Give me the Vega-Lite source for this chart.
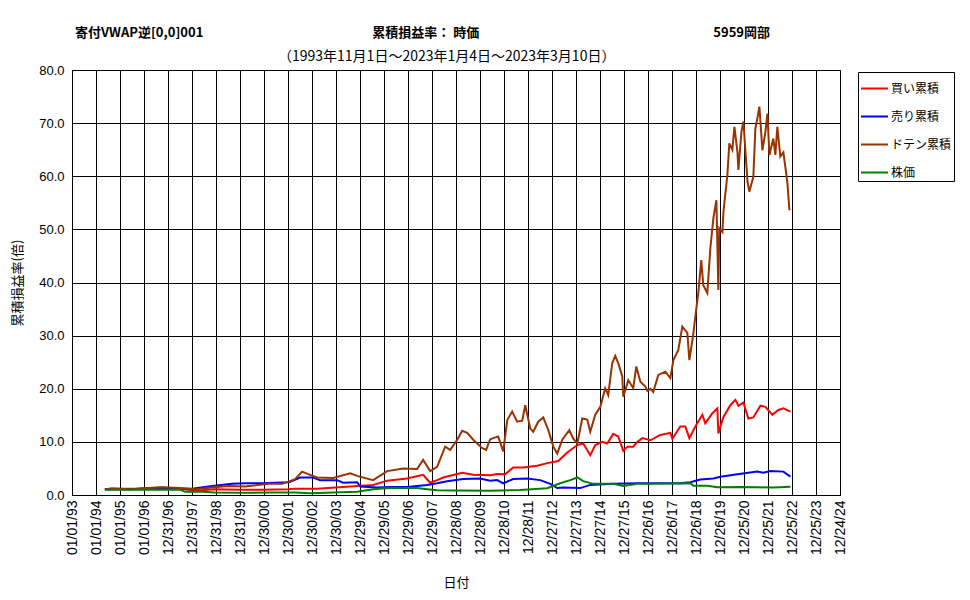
{
  "$schema": "https://vega.github.io/schema/vega-lite/v6.json",
  "width": 768,
  "height": 425,
  "autosize": {"type": "none"},
  "padding": {"left": 72, "top": 70, "right": 130, "bottom": 105},
  "background": "white",
  "title": {
    "text": "寄付VWAP逆[0,0]001　　　　　　　　　　　　　累積損益率： 時価　　　　　　　　　　　　　　　　　　5959岡部",
    "subtitle": "\u200b　　　　　　　　　　　　　　\u2002（1993年11月1日～2023年1月4日～2023年3月10日）",
    "anchor": "start",
    "frame": "group",
    "dx": 3,
    "font": "Noto Sans CJK JP",
    "fontSize": 13,
    "fontWeight": "bold",
    "color": "black",
    "subtitleFont": "Noto Sans CJK JP",
    "subtitleFontSize": 14,
    "subtitleColor": "black",
    "subtitlePadding": 10,
    "offset": 0
  },
  "config": {
    "view": {"stroke": "#808080", "strokeWidth": 1},
    "axis": {
      "labelFont": "Liberation Sans",
      "labelColor": "black",
      "titleFont": "Noto Sans CJK JP",
      "titleFontWeight": "normal",
      "titleColor": "black",
      "titleFontSize": 13,
      "domainColor": "black",
      "gridColor": "black",
      "gridOpacity": 1,
      "gridWidth": 1,
      "ticks": false
    }
  },
  "data": {
    "values": [
      {"date": "1994-05-16", "series": "買い累積", "value": 1.1},
      {"date": "1995-06-01", "series": "買い累積", "value": 1.1},
      {"date": "1996-10-01", "series": "買い累積", "value": 1.4},
      {"date": "1997-07-01", "series": "買い累積", "value": 1.2},
      {"date": "1998-02-16", "series": "買い累積", "value": 0.8},
      {"date": "1998-12-16", "series": "買い累積", "value": 1.1},
      {"date": "1999-12-01", "series": "買い累積", "value": 1.0},
      {"date": "2000-12-01", "series": "買い累積", "value": 1.0},
      {"date": "2002-01-01", "series": "買い累積", "value": 1.1},
      {"date": "2002-04-16", "series": "買い累積", "value": 1.2},
      {"date": "2003-03-16", "series": "買い累積", "value": 1.2},
      {"date": "2004-08-01", "series": "買い累積", "value": 1.6},
      {"date": "2005-07-16", "series": "買い累積", "value": 1.9},
      {"date": "2006-02-16", "series": "買い累積", "value": 2.7},
      {"date": "2006-12-16", "series": "買い累積", "value": 3.1},
      {"date": "2007-08-16", "series": "買い累積", "value": 3.8},
      {"date": "2007-12-01", "series": "買い累積", "value": 2.3},
      {"date": "2008-03-16", "series": "買い累積", "value": 2.8},
      {"date": "2008-06-16", "series": "買い累積", "value": 3.3},
      {"date": "2009-04-01", "series": "買い累積", "value": 4.2},
      {"date": "2009-09-16", "series": "買い累積", "value": 3.8},
      {"date": "2010-06-01", "series": "買い累積", "value": 3.7},
      {"date": "2010-09-16", "series": "買い累積", "value": 3.95},
      {"date": "2011-01-16", "series": "買い累積", "value": 3.9},
      {"date": "2011-05-16", "series": "買い累積", "value": 5.2},
      {"date": "2011-10-16", "series": "買い累積", "value": 5.2},
      {"date": "2012-05-16", "series": "買い累積", "value": 5.5},
      {"date": "2012-10-16", "series": "買い累積", "value": 6.0},
      {"date": "2013-04-01", "series": "買い累積", "value": 6.4},
      {"date": "2013-08-16", "series": "買い累積", "value": 8.0},
      {"date": "2014-01-16", "series": "買い累積", "value": 9.4},
      {"date": "2014-04-16", "series": "買い累積", "value": 9.7},
      {"date": "2014-08-01", "series": "買い累積", "value": 7.5},
      {"date": "2014-10-16", "series": "買い累積", "value": 9.4},
      {"date": "2015-02-01", "series": "買い累積", "value": 10.0},
      {"date": "2015-04-16", "series": "買い累積", "value": 9.7},
      {"date": "2015-07-16", "series": "買い累積", "value": 11.5},
      {"date": "2015-10-01", "series": "買い累積", "value": 11.0},
      {"date": "2015-12-16", "series": "買い累積", "value": 8.3},
      {"date": "2016-02-16", "series": "買い累積", "value": 9.1},
      {"date": "2016-05-16", "series": "買い累積", "value": 9.1},
      {"date": "2016-07-16", "series": "買い累積", "value": 10.0},
      {"date": "2016-10-01", "series": "買い累積", "value": 10.7},
      {"date": "2017-02-01", "series": "買い累積", "value": 10.3},
      {"date": "2017-07-01", "series": "買い累積", "value": 11.3},
      {"date": "2017-12-01", "series": "買い累積", "value": 11.7},
      {"date": "2018-01-01", "series": "買い累積", "value": 10.6},
      {"date": "2018-05-01", "series": "買い累積", "value": 12.9},
      {"date": "2018-07-16", "series": "買い累積", "value": 12.9},
      {"date": "2018-09-16", "series": "買い累積", "value": 10.7},
      {"date": "2018-12-16", "series": "買い累積", "value": 12.9},
      {"date": "2019-04-01", "series": "買い累積", "value": 15.1},
      {"date": "2019-05-16", "series": "買い累積", "value": 13.5},
      {"date": "2019-09-01", "series": "買い累積", "value": 15.4},
      {"date": "2019-11-16", "series": "買い累積", "value": 16.3},
      {"date": "2019-12-01", "series": "買い累積", "value": 11.6},
      {"date": "2020-02-16", "series": "買い累積", "value": 14.7},
      {"date": "2020-06-01", "series": "買い累積", "value": 16.9},
      {"date": "2020-08-16", "series": "買い累積", "value": 17.9},
      {"date": "2020-10-01", "series": "買い累積", "value": 16.8},
      {"date": "2020-12-16", "series": "買い累積", "value": 17.4},
      {"date": "2021-03-01", "series": "買い累積", "value": 14.4},
      {"date": "2021-05-16", "series": "買い累積", "value": 14.6},
      {"date": "2021-09-01", "series": "買い累積", "value": 16.8},
      {"date": "2021-11-16", "series": "買い累積", "value": 16.6},
      {"date": "2022-03-01", "series": "買い累積", "value": 15.1},
      {"date": "2022-06-01", "series": "買い累積", "value": 16.0},
      {"date": "2022-08-16", "series": "買い累積", "value": 16.3},
      {"date": "2022-12-01", "series": "買い累積", "value": 15.7},

      {"date": "1994-05-16", "series": "売り累積", "value": 1.1},
      {"date": "1994-09-01", "series": "売り累積", "value": 1.2},
      {"date": "1995-06-01", "series": "売り累積", "value": 1.1},
      {"date": "1996-10-01", "series": "売り累積", "value": 1.3},
      {"date": "1997-07-01", "series": "売り累積", "value": 1.2},
      {"date": "1998-01-01", "series": "売り累積", "value": 1.2},
      {"date": "1998-11-01", "series": "売り累積", "value": 1.7},
      {"date": "1999-09-01", "series": "売り累積", "value": 2.1},
      {"date": "2000-03-16", "series": "売り累積", "value": 2.2},
      {"date": "2000-12-01", "series": "売り累積", "value": 2.2},
      {"date": "2002-01-01", "series": "売り累積", "value": 2.4},
      {"date": "2002-02-01", "series": "売り累積", "value": 2.5},
      {"date": "2002-07-01", "series": "売り累積", "value": 3.3},
      {"date": "2003-01-16", "series": "売り累積", "value": 3.3},
      {"date": "2003-05-01", "series": "売り累積", "value": 2.8},
      {"date": "2004-01-16", "series": "売り累積", "value": 2.8},
      {"date": "2004-04-16", "series": "売り累積", "value": 2.3},
      {"date": "2004-11-16", "series": "売り累積", "value": 2.4},
      {"date": "2005-01-01", "series": "売り累積", "value": 1.6},
      {"date": "2005-09-16", "series": "売り累積", "value": 1.4},
      {"date": "2006-04-01", "series": "売り累積", "value": 1.5},
      {"date": "2006-12-16", "series": "売り累積", "value": 1.5},
      {"date": "2007-10-16", "series": "売り累積", "value": 1.9},
      {"date": "2008-03-16", "series": "売り累積", "value": 2.2},
      {"date": "2008-08-16", "series": "売り累積", "value": 2.6},
      {"date": "2009-04-16", "series": "売り累積", "value": 3.0},
      {"date": "2010-01-01", "series": "売り累積", "value": 3.1},
      {"date": "2010-06-01", "series": "売り累積", "value": 2.7},
      {"date": "2010-09-16", "series": "売り累積", "value": 2.8},
      {"date": "2010-12-16", "series": "売り累積", "value": 2.2},
      {"date": "2011-05-16", "series": "売り累積", "value": 3.0},
      {"date": "2011-12-16", "series": "売り累積", "value": 3.1},
      {"date": "2012-07-01", "series": "売り累積", "value": 2.8},
      {"date": "2012-12-01", "series": "売り累積", "value": 2.1},
      {"date": "2013-03-16", "series": "売り累積", "value": 1.3},
      {"date": "2013-06-16", "series": "売り累積", "value": 1.4},
      {"date": "2014-03-01", "series": "売り累積", "value": 1.3},
      {"date": "2014-08-01", "series": "売り累積", "value": 1.9},
      {"date": "2015-07-16", "series": "売り累積", "value": 2.1},
      {"date": "2016-07-16", "series": "売り累積", "value": 2.2},
      {"date": "2017-02-01", "series": "売り累積", "value": 2.2},
      {"date": "2018-05-01", "series": "売り累積", "value": 2.2},
      {"date": "2018-10-01", "series": "売り累積", "value": 2.4},
      {"date": "2019-03-01", "series": "売り累積", "value": 2.9},
      {"date": "2019-09-16", "series": "売り累積", "value": 3.1},
      {"date": "2020-01-01", "series": "売り累積", "value": 3.45},
      {"date": "2020-09-16", "series": "売り累積", "value": 3.9},
      {"date": "2021-07-16", "series": "売り累積", "value": 4.4},
      {"date": "2021-10-16", "series": "売り累積", "value": 4.2},
      {"date": "2022-02-01", "series": "売り累積", "value": 4.5},
      {"date": "2022-08-16", "series": "売り累積", "value": 4.4},
      {"date": "2022-12-01", "series": "売り累積", "value": 3.45},

      {"date": "1994-05-16", "series": "ドテン累積", "value": 1.1},
      {"date": "1994-09-01", "series": "ドテン累積", "value": 1.2},
      {"date": "1995-08-16", "series": "ドテン累積", "value": 1.2},
      {"date": "1996-10-01", "series": "ドテン累積", "value": 1.45},
      {"date": "1997-07-01", "series": "ドテン累積", "value": 1.3},
      {"date": "1998-02-16", "series": "ドテン累積", "value": 1.1},
      {"date": "1998-11-01", "series": "ドテン累積", "value": 1.4},
      {"date": "1999-07-01", "series": "ドテン累積", "value": 1.7},
      {"date": "2000-03-16", "series": "ドテン累積", "value": 1.6},
      {"date": "2000-10-01", "series": "ドテン累積", "value": 1.9},
      {"date": "2001-03-01", "series": "ドテン累積", "value": 2.1},
      {"date": "2001-10-01", "series": "ドテン累積", "value": 2.1},
      {"date": "2002-02-01", "series": "ドテン累積", "value": 2.6},
      {"date": "2002-04-16", "series": "ドテン累積", "value": 3.0},
      {"date": "2002-08-01", "series": "ドテン累積", "value": 4.4},
      {"date": "2002-12-01", "series": "ドテン累積", "value": 3.8},
      {"date": "2003-03-16", "series": "ドテン累積", "value": 3.3},
      {"date": "2003-11-16", "series": "ドテン累積", "value": 3.2},
      {"date": "2004-08-01", "series": "ドテン累積", "value": 4.1},
      {"date": "2004-11-16", "series": "ドテン累積", "value": 3.6},
      {"date": "2005-07-16", "series": "ドテン累積", "value": 2.8},
      {"date": "2006-02-16", "series": "ドテン累積", "value": 4.5},
      {"date": "2006-10-16", "series": "ドテン累積", "value": 5.0},
      {"date": "2007-05-16", "series": "ドテン累積", "value": 4.9},
      {"date": "2007-08-16", "series": "ドテン累積", "value": 6.6},
      {"date": "2007-12-01", "series": "ドテン累積", "value": 4.5},
      {"date": "2008-03-16", "series": "ドテン累積", "value": 5.3},
      {"date": "2008-07-16", "series": "ドテン累積", "value": 9.1},
      {"date": "2008-10-01", "series": "ドテン累積", "value": 8.5},
      {"date": "2009-01-16", "series": "ドテン累積", "value": 10.4},
      {"date": "2009-04-01", "series": "ドテン累積", "value": 12.1},
      {"date": "2009-06-16", "series": "ドテン累積", "value": 11.7},
      {"date": "2009-09-16", "series": "ドテン累積", "value": 10.4},
      {"date": "2010-02-01", "series": "ドテン累積", "value": 8.8},
      {"date": "2010-04-01", "series": "ドテン累積", "value": 8.5},
      {"date": "2010-06-01", "series": "ドテン累積", "value": 10.5},
      {"date": "2010-07-16", "series": "ドテン累積", "value": 10.7},
      {"date": "2010-10-01", "series": "ドテン累積", "value": 11.0},
      {"date": "2010-12-16", "series": "ドテン累積", "value": 8.2},
      {"date": "2011-02-16", "series": "ドテン累積", "value": 14.1},
      {"date": "2011-05-01", "series": "ドテン累積", "value": 15.7},
      {"date": "2011-07-16", "series": "ドテン累積", "value": 13.8},
      {"date": "2011-10-01", "series": "ドテン累積", "value": 14.0},
      {"date": "2011-11-16", "series": "ドテン累積", "value": 16.9},
      {"date": "2012-02-01", "series": "ドテン累積", "value": 12.5},
      {"date": "2012-03-16", "series": "ドテン累積", "value": 11.9},
      {"date": "2012-06-01", "series": "ドテン累積", "value": 13.8},
      {"date": "2012-08-16", "series": "ドテン累積", "value": 14.6},
      {"date": "2012-11-01", "series": "ドテン累積", "value": 12.2},
      {"date": "2013-01-16", "series": "ドテン累積", "value": 9.1},
      {"date": "2013-03-16", "series": "ドテン累積", "value": 7.8},
      {"date": "2013-06-01", "series": "ドテン累積", "value": 10.4},
      {"date": "2013-09-16", "series": "ドテン累積", "value": 12.2},
      {"date": "2013-11-16", "series": "ドテン累積", "value": 10.6},
      {"date": "2014-01-16", "series": "ドテン累積", "value": 9.7},
      {"date": "2014-04-01", "series": "ドテン累積", "value": 14.4},
      {"date": "2014-06-16", "series": "ドテン累積", "value": 14.2},
      {"date": "2014-08-01", "series": "ドテン累積", "value": 11.9},
      {"date": "2014-10-16", "series": "ドテン累積", "value": 15.1},
      {"date": "2015-01-01", "series": "ドテン累積", "value": 16.6},
      {"date": "2015-03-16", "series": "ドテン累積", "value": 20.1},
      {"date": "2015-05-01", "series": "ドテン累積", "value": 18.8},
      {"date": "2015-07-01", "series": "ドテン累積", "value": 24.8},
      {"date": "2015-08-16", "series": "ドテン累積", "value": 26.2},
      {"date": "2015-10-01", "series": "ドテン累積", "value": 24.8},
      {"date": "2015-12-01", "series": "ドテン累積", "value": 22.3},
      {"date": "2015-12-16", "series": "ドテン累積", "value": 18.5},
      {"date": "2016-03-01", "series": "ドテン累積", "value": 21.6},
      {"date": "2016-05-16", "series": "ドテン累積", "value": 20.1},
      {"date": "2016-07-01", "series": "ドテン累積", "value": 24.2},
      {"date": "2016-09-01", "series": "ドテン累積", "value": 21.3},
      {"date": "2016-11-16", "series": "ドテン累積", "value": 20.4},
      {"date": "2016-12-16", "series": "ドテン累積", "value": 19.6},
      {"date": "2017-02-01", "series": "ドテン累積", "value": 20.0},
      {"date": "2017-03-16", "series": "ドテン累積", "value": 19.4},
      {"date": "2017-06-01", "series": "ドテン累積", "value": 22.6},
      {"date": "2017-09-16", "series": "ドテン累積", "value": 23.2},
      {"date": "2017-12-01", "series": "ドテン累積", "value": 22.0},
      {"date": "2018-01-16", "series": "ドテン累積", "value": 25.4},
      {"date": "2018-04-01", "series": "ドテン累積", "value": 27.3},
      {"date": "2018-06-01", "series": "ドテン累積", "value": 31.7},
      {"date": "2018-08-16", "series": "ドテン累積", "value": 30.5},
      {"date": "2018-09-16", "series": "ドテン累積", "value": 25.4},
      {"date": "2018-11-16", "series": "ドテン累積", "value": 30.4},
      {"date": "2018-12-16", "series": "ドテン累積", "value": 33.6},
      {"date": "2019-02-01", "series": "ドテン累積", "value": 38.3},
      {"date": "2019-03-16", "series": "ドテン累積", "value": 44.2},
      {"date": "2019-04-16", "series": "ドテン累積", "value": 39.5},
      {"date": "2019-06-16", "series": "ドテン累積", "value": 38.0},
      {"date": "2019-08-01", "series": "ドテン累積", "value": 46.4},
      {"date": "2019-09-16", "series": "ドテン累積", "value": 52.1},
      {"date": "2019-11-01", "series": "ドテン累積", "value": 55.5},
      {"date": "2019-12-01", "series": "ドテン累積", "value": 38.6},
      {"date": "2019-12-16", "series": "ドテン累積", "value": 50.2},
      {"date": "2020-02-01", "series": "ドテン累積", "value": 49.5},
      {"date": "2020-02-16", "series": "ドテン累積", "value": 53.3},
      {"date": "2020-04-16", "series": "ドテン累積", "value": 60.2},
      {"date": "2020-05-16", "series": "ドテン累積", "value": 66.2},
      {"date": "2020-07-01", "series": "ドテン累積", "value": 65.0},
      {"date": "2020-08-01", "series": "ドテン累積", "value": 69.3},
      {"date": "2020-09-16", "series": "ドテン累積", "value": 64.6},
      {"date": "2020-10-01", "series": "ドテン累積", "value": 61.2},
      {"date": "2020-11-16", "series": "ドテン累積", "value": 68.4},
      {"date": "2020-12-16", "series": "ドテン累積", "value": 70.3},
      {"date": "2021-02-16", "series": "ドテン累積", "value": 59.0},
      {"date": "2021-03-16", "series": "ドテン累積", "value": 57.1},
      {"date": "2021-05-16", "series": "ドテン累積", "value": 59.9},
      {"date": "2021-06-16", "series": "ドテン累積", "value": 69.0},
      {"date": "2021-07-16", "series": "ドテン累積", "value": 70.9},
      {"date": "2021-08-16", "series": "ドテン累積", "value": 73.1},
      {"date": "2021-10-01", "series": "ドテン累積", "value": 64.9},
      {"date": "2021-11-16", "series": "ドテン累積", "value": 68.4},
      {"date": "2021-12-16", "series": "ドテン累積", "value": 71.8},
      {"date": "2022-01-16", "series": "ドテン累積", "value": 64.0},
      {"date": "2022-03-16", "series": "ドテン累積", "value": 67.1},
      {"date": "2022-04-16", "series": "ドテン累積", "value": 64.0},
      {"date": "2022-05-16", "series": "ドテン累積", "value": 69.3},
      {"date": "2022-07-01", "series": "ドテン累積", "value": 63.7},
      {"date": "2022-08-16", "series": "ドテン累積", "value": 64.5},
      {"date": "2022-10-01", "series": "ドテン累積", "value": 60.2},
      {"date": "2022-10-16", "series": "ドテン累積", "value": 58.7},
      {"date": "2022-11-16", "series": "ドテン累積", "value": 53.6},

      {"date": "1994-05-16", "series": "株価", "value": 1.0},
      {"date": "1996-04-01", "series": "株価", "value": 1.0},
      {"date": "1997-07-01", "series": "株価", "value": 1.0},
      {"date": "1997-09-16", "series": "株価", "value": 0.6},
      {"date": "1998-06-01", "series": "株価", "value": 0.6},
      {"date": "1998-12-16", "series": "株価", "value": 0.45},
      {"date": "2000-02-01", "series": "株価", "value": 0.4},
      {"date": "2001-04-01", "series": "株価", "value": 0.45},
      {"date": "2002-04-16", "series": "株価", "value": 0.45},
      {"date": "2002-12-01", "series": "株価", "value": 0.35},
      {"date": "2004-11-16", "series": "株価", "value": 0.6},
      {"date": "2005-07-16", "series": "株価", "value": 1.1},
      {"date": "2006-04-01", "series": "株価", "value": 1.3},
      {"date": "2007-05-16", "series": "株価", "value": 1.3},
      {"date": "2007-10-16", "series": "株価", "value": 1.1},
      {"date": "2008-03-16", "series": "株価", "value": 0.9},
      {"date": "2009-01-16", "series": "株価", "value": 0.85},
      {"date": "2010-06-01", "series": "株価", "value": 0.8},
      {"date": "2011-09-01", "series": "株価", "value": 0.94},
      {"date": "2012-10-16", "series": "株価", "value": 1.26},
      {"date": "2013-05-01", "series": "株価", "value": 2.2},
      {"date": "2013-10-01", "series": "株価", "value": 2.8},
      {"date": "2014-01-16", "series": "株価", "value": 3.3},
      {"date": "2014-04-16", "series": "株価", "value": 2.6},
      {"date": "2014-09-16", "series": "株価", "value": 2.1},
      {"date": "2015-07-16", "series": "株価", "value": 2.1},
      {"date": "2015-12-16", "series": "株価", "value": 1.7},
      {"date": "2016-07-16", "series": "株価", "value": 2.1},
      {"date": "2017-02-01", "series": "株価", "value": 2.1},
      {"date": "2018-10-01", "series": "株価", "value": 2.2},
      {"date": "2018-11-16", "series": "株価", "value": 1.75},
      {"date": "2019-06-16", "series": "株価", "value": 1.75},
      {"date": "2019-11-16", "series": "株価", "value": 1.45},
      {"date": "2020-11-01", "series": "株価", "value": 1.5},
      {"date": "2021-07-16", "series": "株価", "value": 1.45},
      {"date": "2022-03-16", "series": "株価", "value": 1.4},
      {"date": "2022-12-01", "series": "株価", "value": 1.57}
    ]
  },
  "mark": {"type": "line", "strokeWidth": 2, "clip": true},
  "encoding": {
    "x": {
      "field": "date",
      "type": "temporal",
      "scale": {
        "type": "utc",
        "domain": [
          {"year": 1993, "month": 1, "date": 1, "utc": true},
          {"year": 2024, "month": 12, "date": 24, "utc": true}
        ]
      },
      "axis": {
        "title": "日付",
        "labelExpr": "utcFormat(datum.value, '%m/%d/%y')",
        "labelAngle": 270,
        "labelAlign": "right",
        "labelBaseline": "middle",
        "labelFontSize": 14,
        "labelPadding": 5,
        "labelOverlap": false,
        "labelFlush": false,
        "titlePadding": 22,
        "values": [
          {"year": 1993, "month": 1, "date": 1, "utc": true},
          {"year": 1994, "month": 1, "date": 1, "utc": true},
          {"year": 1995, "month": 1, "date": 1, "utc": true},
          {"year": 1996, "month": 1, "date": 1, "utc": true},
          {"year": 1996, "month": 12, "date": 31, "utc": true},
          {"year": 1997, "month": 12, "date": 31, "utc": true},
          {"year": 1998, "month": 12, "date": 31, "utc": true},
          {"year": 1999, "month": 12, "date": 31, "utc": true},
          {"year": 2000, "month": 12, "date": 30, "utc": true},
          {"year": 2001, "month": 12, "date": 30, "utc": true},
          {"year": 2002, "month": 12, "date": 30, "utc": true},
          {"year": 2003, "month": 12, "date": 30, "utc": true},
          {"year": 2004, "month": 12, "date": 29, "utc": true},
          {"year": 2005, "month": 12, "date": 29, "utc": true},
          {"year": 2006, "month": 12, "date": 29, "utc": true},
          {"year": 2007, "month": 12, "date": 29, "utc": true},
          {"year": 2008, "month": 12, "date": 28, "utc": true},
          {"year": 2009, "month": 12, "date": 28, "utc": true},
          {"year": 2010, "month": 12, "date": 28, "utc": true},
          {"year": 2011, "month": 12, "date": 28, "utc": true},
          {"year": 2012, "month": 12, "date": 27, "utc": true},
          {"year": 2013, "month": 12, "date": 27, "utc": true},
          {"year": 2014, "month": 12, "date": 27, "utc": true},
          {"year": 2015, "month": 12, "date": 27, "utc": true},
          {"year": 2016, "month": 12, "date": 26, "utc": true},
          {"year": 2017, "month": 12, "date": 26, "utc": true},
          {"year": 2018, "month": 12, "date": 26, "utc": true},
          {"year": 2019, "month": 12, "date": 26, "utc": true},
          {"year": 2020, "month": 12, "date": 25, "utc": true},
          {"year": 2021, "month": 12, "date": 25, "utc": true},
          {"year": 2022, "month": 12, "date": 25, "utc": true},
          {"year": 2023, "month": 12, "date": 25, "utc": true},
          {"year": 2024, "month": 12, "date": 24, "utc": true}
        ]
      }
    },
    "y": {
      "field": "value",
      "type": "quantitative",
      "scale": {"domain": [0, 80], "nice": false, "zero": true},
      "axis": {
        "title": "累積損益率(倍)",
        "format": ".1f",
        "values": [0, 10, 20, 30, 40, 50, 60, 70, 80],
        "labelFontSize": 13,
        "labelPadding": 8,
        "titlePadding": 14
      }
    },
    "color": {
      "field": "series",
      "type": "nominal",
      "sort": ["買い累積", "売り累積", "ドテン累積", "株価"],
      "scale": {
        "domain": ["買い累積", "売り累積", "ドテン累積", "株価"],
        "range": ["#FF0000", "#0000FF", "#993300", "#008000"]
      },
      "legend": {
        "title": null,
        "orient": "none",
        "legendX": 786,
        "legendY": 2,
        "strokeColor": "black",
        "fillColor": "white",
        "padding": 2,
        "symbolType": "stroke",
        "symbolSize": 729,
        "symbolStrokeWidth": 2,
        "rowPadding": 7,
        "labelFont": "Noto Sans CJK JP",
        "labelFontSize": 12,
        "labelColor": "black",
        "labelOffset": 2,
        "labelLimit": 200
      }
    }
  }
}
